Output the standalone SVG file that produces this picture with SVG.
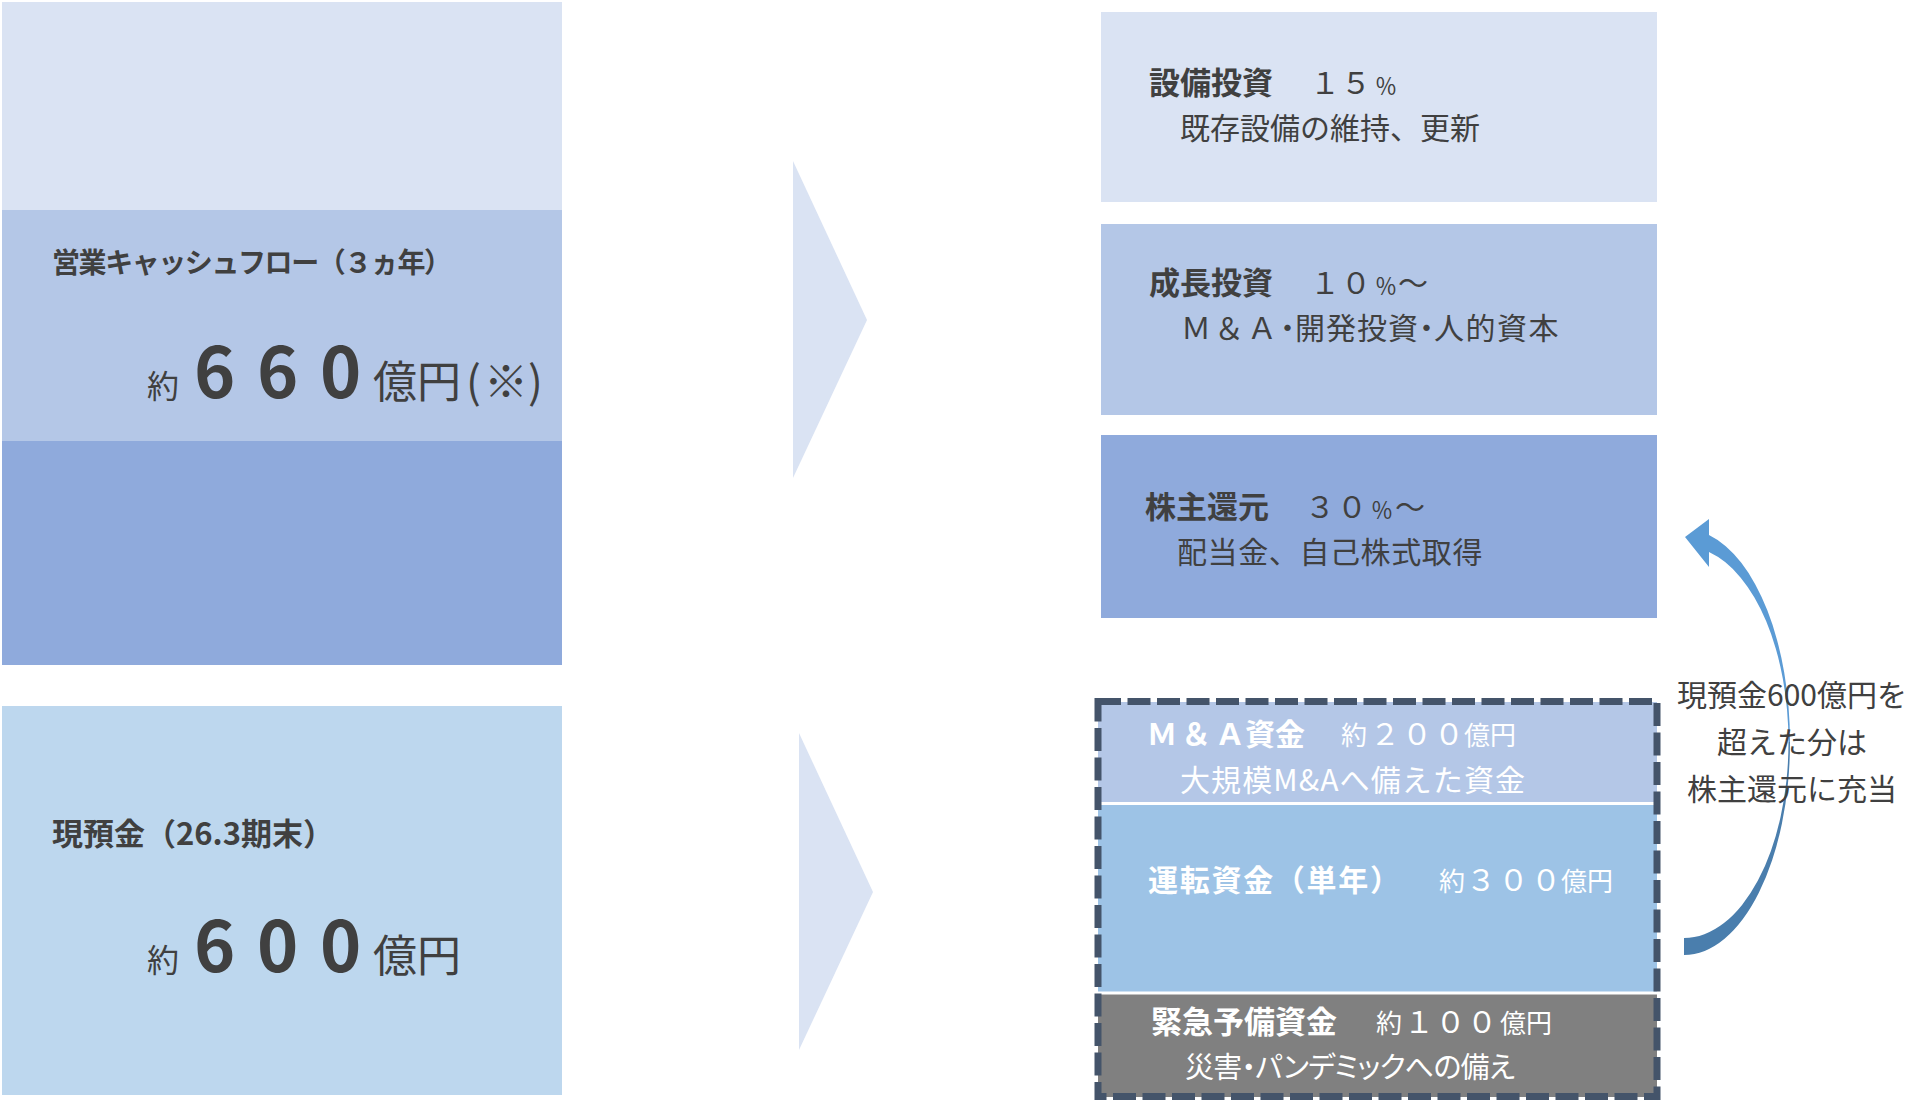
<svg xmlns="http://www.w3.org/2000/svg" width="1918" height="1100" viewBox="0 0 1918 1100">
<style>
.t{font-family:"Noto Sans CJK JP","Noto Sans",sans-serif;fill:#404040}
.b{font-weight:700}
.w{fill:#ffffff}
.palt{font-feature-settings:"palt"}
.c1{fill:#DAE3F3}
.c2{fill:#B4C7E7}
.c3{fill:#8FAADC}
</style>
<rect width="1918" height="1100" fill="#ffffff"/>

<g id="opcf">
  <rect class="c1" x="2" y="2" width="560" height="208"/>
  <rect class="c2" x="2" y="210" width="560" height="231"/>
  <rect class="c3" x="2" y="441" width="560" height="224"/>
  <text class="t b" x="52" y="273" font-size="28" textLength="400" lengthAdjust="spacing">営業キャッシュフロー（３ヵ年）</text>
  <text class="t" y="398"><tspan x="147" font-size="32">約</tspan><tspan class="b" x="194 257 320" font-size="70">660</tspan><tspan x="373" font-size="44">億円</tspan><tspan x="466" font-size="44">(</tspan><tspan x="484" font-size="44">※</tspan><tspan x="528" font-size="44">)</tspan></text>
</g>

<g id="cash">
  <rect fill="#BDD7EE" x="2" y="706" width="560" height="389"/>
  <text class="t b" x="52" y="845" font-size="31">現預金（26.3期末）</text>
  <text class="t" y="972"><tspan x="147" font-size="32">約</tspan><tspan class="b" x="194 257 320" font-size="70">600</tspan><tspan x="373" font-size="44">億円</tspan></text>
</g>

<g id="capex">
  <rect class="c1" x="1101" y="12" width="556" height="190"/>
  <text class="t b" x="1149" y="94" font-size="31">設備投資</text>
  <text class="t" y="94"><tspan x="1310" font-size="30" letter-spacing="1">１５</tspan><tspan x="1375" font-size="22">％</tspan></text>
  <text class="t" x="1180" y="139" font-size="30">既存設備の維持、更新</text>
</g>

<g id="growth">
  <rect class="c2" x="1101" y="224" width="556" height="191"/>
  <text class="t b" x="1149" y="294" font-size="31">成長投資</text>
  <text class="t" y="294"><tspan x="1310" font-size="30" letter-spacing="1">１０</tspan><tspan x="1375" font-size="22">％</tspan><tspan x="1398" font-size="30">～</tspan></text>
  <text class="t" x="1181" y="339" font-size="30"><tspan letter-spacing="3">Ｍ＆Ａ</tspan><tspan class="palt">・</tspan><tspan letter-spacing="1">開発投資</tspan><tspan class="palt">・</tspan><tspan letter-spacing="1.5">人的資本</tspan></text>
</g>

<g id="return">
  <rect class="c3" x="1101" y="435" width="556" height="183"/>
  <text class="t b" x="1145" y="518" font-size="31">株主還元</text>
  <text class="t" y="518"><tspan x="1305" font-size="30" letter-spacing="2">３０</tspan><tspan x="1371" font-size="22">％</tspan><tspan x="1395" font-size="30">～</tspan></text>
  <text class="t" x="1177" y="563" font-size="30" letter-spacing="0.6">配当金、自己株式取得</text>
</g>

<g id="reserve">
  <g id="ma-fund">
    <rect class="c2" x="1098" y="702" width="559" height="101"/>
    <text class="t w b" y="745" font-size="30"><tspan x="1147" letter-spacing="4">Ｍ＆Ａ</tspan><tspan x="1245">資金</tspan></text>
    <text class="t w" y="745"><tspan x="1341" font-size="26">約</tspan><tspan x="1370" font-size="30" letter-spacing="2">２００</tspan><tspan x="1464" font-size="26">億円</tspan></text>
    <text class="t w" x="1180" y="791" font-size="30" textLength="345" lengthAdjust="spacing">大規模M&amp;Aへ備えた資金</text>
  </g>
  <g id="working">
    <rect fill="#9DC3E6" x="1098" y="804" width="559" height="189"/>
    <text class="t w b" x="1148" y="891" font-size="30" textLength="252" lengthAdjust="spacing">運転資金（単年）</text>
    <text class="t w" y="891"><tspan x="1439" font-size="26">約</tspan><tspan x="1466" font-size="30" letter-spacing="2.5">３００</tspan><tspan x="1561" font-size="26">億円</tspan></text>
  </g>
  <g id="emergency">
    <rect fill="#808080" x="1098" y="993" width="559" height="104"/>
    <text class="t w b" x="1151" y="1033" font-size="31">緊急予備資金</text>
    <text class="t w" y="1033"><tspan x="1376" font-size="26">約</tspan><tspan x="1404" font-size="30" letter-spacing="1.5">１００</tspan><tspan x="1500" font-size="26">億円</tspan></text>
    <text class="t w palt" x="1185" y="1078" font-size="29" textLength="330" lengthAdjust="spacing">災害・パンデミックへの備え</text>
  </g>
  <line x1="1098" y1="803.5" x2="1657" y2="803.5" stroke="#ffffff" stroke-width="3"/>
  <line x1="1098" y1="993" x2="1657" y2="993" stroke="#ffffff" stroke-width="3"/>
  <rect x="1098" y="701.5" width="559" height="395" fill="none" stroke="#44546A" stroke-width="7" stroke-dasharray="23 6.5"/>
</g>

<g id="connectors">
  <polygon class="c1" points="793,161 867,320 793,478"/>
  <polygon class="c1" points="799,733 873,892 799,1050"/>
  <path fill="#4A7EAD" d="M 1684 955 A 106 213 0 0 0 1790 742 L 1788.5 742 A 104.5 196 0 0 1 1684 938 Z"/>
  <path fill="#5B9BD5" d="M 1788.5 742 A 104.5 196 0 0 0 1709 552 L 1709 567 L 1685 537 L 1709 519 L 1709 535 A 106 213 0 0 1 1790 742 Z"/>
</g>

<g id="note">
  <text class="t" text-anchor="middle" font-size="30"><tspan x="1792" y="706">現預金600億円を</tspan><tspan x="1792" y="753">超えた分は</tspan><tspan x="1792" y="800">株主還元に充当</tspan></text>
</g>
</svg>
